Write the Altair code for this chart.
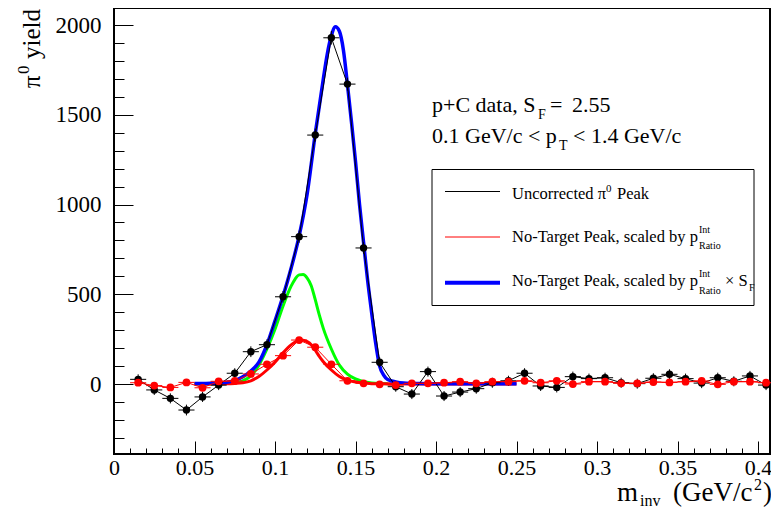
import altair as alt
import pandas as pd

FONT = "Liberation Serif"

# ---------------- data ----------------
mass = [0.015, 0.025, 0.035, 0.045, 0.055, 0.065, 0.075, 0.085, 0.095, 0.105,
        0.115, 0.125, 0.135, 0.145, 0.155, 0.165, 0.175, 0.185, 0.195, 0.205,
        0.215, 0.225, 0.235, 0.245, 0.255, 0.265, 0.275, 0.285, 0.295, 0.305,
        0.315, 0.325, 0.335, 0.345, 0.355, 0.365, 0.375, 0.385, 0.395, 0.405]

black_yield = [26, -33, -80, -145, -72, -6, 60, 180, 219, 486,
               821, 1387, 1929, 1671, 758, 121, -15, -56, 69, -67,
               -45, -26, 7, 18, 60, -11, -19, 41, 30, 35,
               7, 2, 32, 54, 30, 5, 35, 15, 45, -6]
black_err = [28, 28, 28, 30, 28, 28, 28, 30, 30, 32,
             34, 36, 38, 36, 32, 28, 28, 28, 28, 28,
             28, 28, 28, 28, 28, 28, 28, 28, 28, 28,
             28, 28, 28, 28, 28, 28, 28, 28, 28, 28]

red_yield = [7, -9, -19, 9, -21, 15, 17, 56, 110, 158,
             245, 205, 110, 18, 4, -2, -6, 4, 4, 7,
             13, 4, 13, 13, 18, 7, 18, 0, 13, 13,
             4, 4, 11, 9, 13, 17, -2, 13, 13, 7]
red_err = [9, 9, 9, 9, 9, 9, 9, 10, 11, 12,
           13, 13, 11, 9, 9, 9, 9, 9, 9, 9,
           9, 9, 9, 9, 9, 9, 9, 9, 9, 9,
           9, 9, 9, 9, 9, 9, 9, 9, 9, 9]

blue_x = [0.050, 0.055, 0.060, 0.065, 0.070, 0.075, 0.080, 0.085, 0.090, 0.095,
          0.100, 0.105, 0.110, 0.115, 0.120, 0.125, 0.130, 0.1325, 0.135, 0.1375,
          0.140, 0.1425, 0.145, 0.1475, 0.150, 0.1525, 0.155, 0.1575, 0.160, 0.1625,
          0.165, 0.1675, 0.170, 0.175, 0.180, 0.190, 0.200, 0.250]
blue_y = [3, 3, 4, 6, 10, 20, 40, 72, 122, 220,
          352, 490, 645, 825, 1060, 1395, 1700, 1840, 1940, 1990,
          1965, 1860, 1668, 1460, 1240, 1000, 790, 580, 400, 230,
          100, 50, 25, 12, 6, 3, 2, 2]

green_x = [0.050, 0.060, 0.070, 0.075, 0.080, 0.085, 0.090, 0.095, 0.100, 0.105,
           0.110, 0.1125, 0.115, 0.1175, 0.120, 0.1225, 0.125, 0.1275, 0.130, 0.135,
           0.140, 0.145, 0.150, 0.155, 0.160, 0.165, 0.170]
green_y = [0, 1, 3, 7, 18, 45, 105, 195, 305, 435,
           545, 585, 608, 610, 590, 548, 470, 385, 310, 195,
           105, 55, 28, 13, 6, 3, 2]

redfit_x = [0.050, 0.060, 0.070, 0.075, 0.080, 0.085, 0.090, 0.095, 0.100, 0.105,
            0.110, 0.1125, 0.115, 0.1175, 0.120, 0.1225, 0.125, 0.1275, 0.130, 0.135,
            0.140, 0.145, 0.150, 0.155, 0.160, 0.165, 0.170, 0.200, 0.250]
redfit_y = [0, 0, 1, 3, 7, 18, 42, 78, 122, 174,
            218, 234, 243, 244, 236, 219, 188, 154, 124, 78,
            42, 22, 11, 5, 2, 1, 1, 0, 0]

x_major = [0, 0.05, 0.1, 0.15, 0.2, 0.25, 0.3, 0.35, 0.4]
x_minor = [0.01, 0.02, 0.03, 0.04, 0.06, 0.07, 0.08, 0.09, 0.11, 0.12, 0.13, 0.14,
           0.16, 0.17, 0.18, 0.19, 0.21, 0.22, 0.23, 0.24, 0.26, 0.27, 0.28, 0.29,
           0.31, 0.32, 0.33, 0.34, 0.36, 0.37, 0.38, 0.39]
y_major = [0, 500, 1000, 1500, 2000]
y_minor = [-300, -200, -100, 100, 200, 300, 400, 600, 700, 800, 900, 1100, 1200,
           1300, 1400, 1600, 1700, 1800, 1900]

BIN_HALF = 0.005

# ---------------- layout ----------------
W, H = 656, 446
OX, OY = 114, 8          # page position of the plot-area corner
X_DOM = [0, 0.40745]
Y_DOM = [-390, 2095]
xs = alt.Scale(domain=X_DOM, nice=False, zero=False)
ys = alt.Scale(domain=Y_DOM, nice=False, zero=False)


def ax_common(**kw):
    base = dict(domain=False, grid=False, tickColor="black", tickWidth=1,
                labelColor="black", labelFont=FONT, title=None,
                labelFlush=False, labelOverlap=False)
    base.update(kw)
    return alt.Axis(**base)


dummy = pd.DataFrame({"x": [0.0], "y": [0.0]})

major_axes = alt.Chart(dummy).mark_point(opacity=0).encode(
    x=alt.X("x:Q", scale=xs, axis=ax_common(
        orient="bottom", values=x_major, format="~g", tickSize=13, offset=-13,
        labelFontSize=22, labelPadding=3)),
    y=alt.Y("y:Q", scale=ys, axis=ax_common(
        orient="left", values=y_major, format="d", tickSize=19, offset=-19,
        labelFontSize=23, labelPadding=13)),
)
minor_axes = alt.Chart(dummy).mark_point(opacity=0).encode(
    x=alt.X("x:Q", scale=xs, axis=ax_common(
        orient="bottom", values=x_minor, tickSize=6, offset=-6, labels=False)),
    y=alt.Y("y:Q", scale=ys, axis=ax_common(
        orient="left", values=y_minor, tickSize=10, offset=-10, labels=False)),
)

black_df = pd.DataFrame({"m": mass, "v": black_yield, "e": black_err})
red_df = pd.DataFrame({"m": mass, "v": red_yield, "e": red_err})


def X(f):
    return alt.X(f, scale=xs, axis=None)


def Y(f):
    return alt.Y(f, scale=ys, axis=None)


def data_layers(df, color, size):
    base = alt.Chart(df).transform_calculate(
        lo="datum.m - %g" % BIN_HALF, hi="datum.m + %g" % BIN_HALF,
        vlo="datum.v - datum.e", vhi="datum.v + datum.e")
    xerr = base.mark_rule(color=color, strokeWidth=1).encode(
        x=X("lo:Q"), x2="hi:Q", y=Y("v:Q"))
    yerr = base.mark_rule(color=color, strokeWidth=1).encode(
        x=X("m:Q"), y=Y("vlo:Q"), y2="vhi:Q")
    line = base.mark_line(color=color, strokeWidth=1).encode(
        x=X("m:Q"), y=Y("v:Q"))
    pts = base.mark_circle(color=color, size=size, opacity=1).encode(
        x=X("m:Q"), y=Y("v:Q"))
    return [xerr, yerr, line, pts]


def curve(xv, yv, color, width):
    return alt.Chart(pd.DataFrame({"m": xv, "v": yv})).mark_line(
        color=color, strokeWidth=width, interpolate="monotone", clip=True
    ).encode(x=X("m:Q"), y=Y("v:Q"))


green = curve(green_x, green_y, "#00ff00", 3)
redfit = curve(redfit_x, redfit_y, "#ff0000", 3)
blue = curve(blue_x, blue_y, "#0000ff", 3.5)


def txt(s, px, py, size, angle=0):
    return alt.Chart(pd.DataFrame({"t": [s]})).mark_text(
        align="left", baseline="alphabetic", font=FONT, fontSize=size,
        color="black", angle=angle
    ).encode(x=alt.value(px - OX), y=alt.value(py - OY), text="t:N")


def hline(x1, x2, y, color, width):
    return alt.Chart(pd.DataFrame({"a": [0]})).mark_rule(
        color=color, strokeWidth=width
    ).encode(x=alt.value(x1 - OX), x2=alt.value(x2 - OX), y=alt.value(y - OY))


legend_box = alt.Chart(pd.DataFrame({"a": [0]})).mark_rect(
    fill="white", stroke="black", strokeWidth=1
).encode(x=alt.value(432 - OX), x2=alt.value(754 - OX),
         y=alt.value(169.5 - OY), y2=alt.value(305.5 - OY))

texts = [
    # annotation
    txt("p+C data, S", 432, 112, 22),
    txt("F", 538, 119, 14),
    txt("=", 550, 112, 22),
    txt("2.55", 572, 112, 22),
    txt("0.1 GeV/c < p", 432, 142.5, 22),
    txt("T", 559, 150, 14),
    txt("< 1.4 GeV/c", 573, 142.5, 22),
    # legend
    txt("Uncorrected \u03c0", 512, 199, 16.5),
    txt("0", 606, 192, 11),
    txt("Peak", 617, 199, 16.5),
    txt("No-Target Peak, scaled by p", 512, 241.5, 16.5),
    txt("Int", 699, 233, 10),
    txt("Ratio", 699, 249, 10),
    txt("No-Target Peak, scaled by p", 512, 285.5, 16.5),
    txt("Int", 699, 277, 10),
    txt("Ratio", 699, 293.5, 10),
    txt("\u00d7 S", 725, 285.5, 16.5),
    txt("F", 749, 291, 10),
    # x title
    txt("m", 617, 501, 27),
    txt("inv", 640, 506, 16),
    txt("(GeV/c", 673, 501, 27),
    txt("2", 754, 490, 16),
    txt(")", 763, 501, 27),
    # y title
    txt("\u03c0", 40, 88, 25, angle=270),
    txt("0", 29, 74, 17, angle=270),
    txt("yield", 40, 59, 25, angle=270),
]

legend_lines = [
    hline(445, 500, 191.5, "black", 1),
    hline(445, 500, 237, "#ff0000", 1),
    hline(445, 500, 282.7, "#0000ff", 4),
]

layers = ([major_axes, minor_axes, green, redfit, blue]
          + data_layers(black_df, "black", 55)
          + data_layers(red_df, "#ff0000", 60)
          + [legend_box] + legend_lines + texts)

chart = alt.layer(*layers).resolve_axis(x="independent", y="independent").properties(
    width=W, height=H,
    autosize=alt.AutoSizeParams(type="none"),
    padding={"left": 106, "top": 0, "right": 1, "bottom": 54},
    background="white",
).configure_view(stroke="black", strokeWidth=2)

chart.save("out.html", embed_options={"renderer": "svg", "actions": False})
